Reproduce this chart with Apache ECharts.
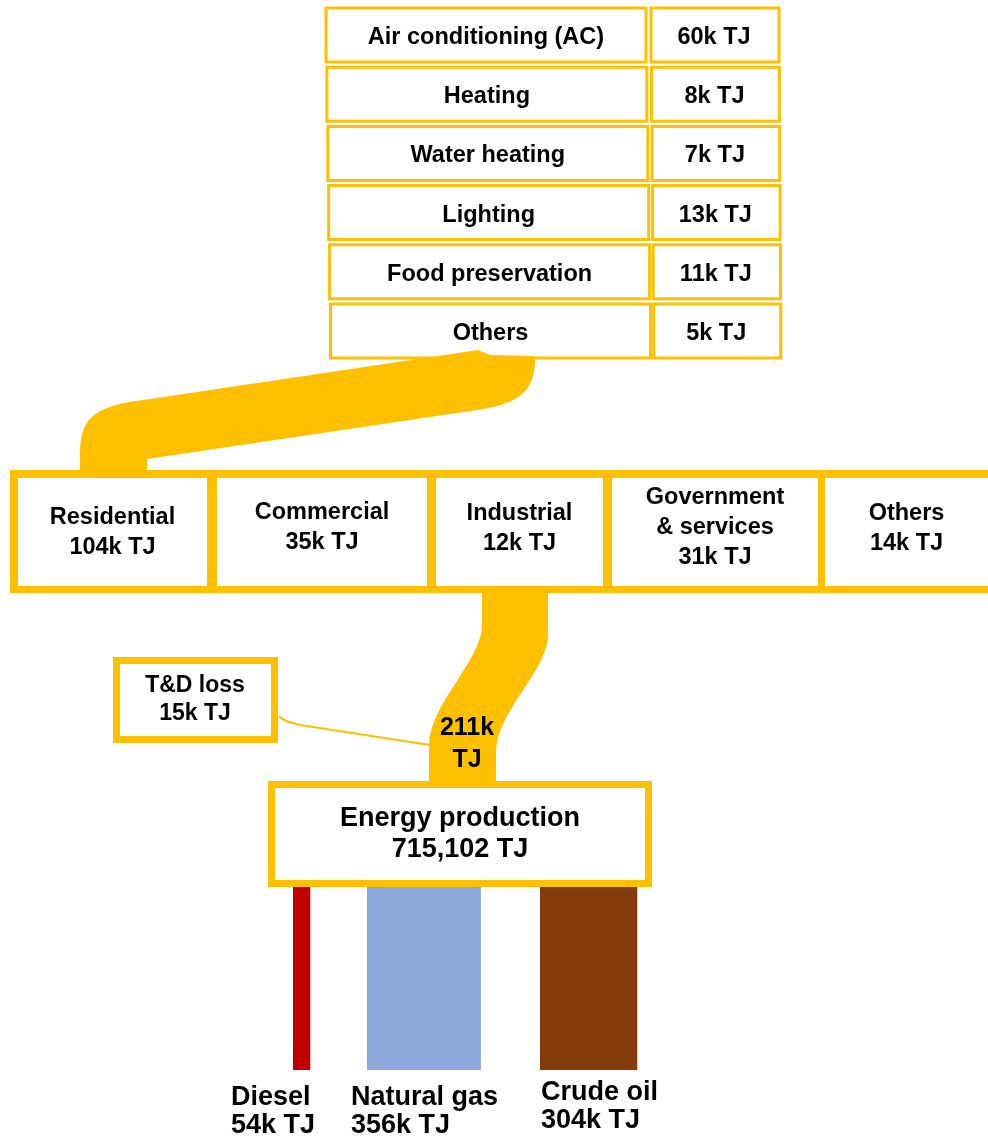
<!DOCTYPE html>
<html><head><meta charset="utf-8">
<script src="https://cdn.jsdelivr.net/npm/echarts@6/dist/echarts.min.js"></script>
<style>html,body{margin:0;padding:0;background:#fff}#c{width:988px;height:1136px}</style>
</head><body><div id="c"></div>
<script>
// ---------------- DATA ----------------
const endUses = ['Air conditioning (AC)', 'Heating', 'Water heating', 'Lighting', 'Food preservation', 'Others'];
const endUseValues = [60, 8, 7, 13, 11, 5];           // k TJ (residential end uses)
const sectors = ['Residential', 'Commercial', 'Industrial', 'Government\n& services', 'Others'];
const sectorValues = [104, 35, 12, 31, 14];           // k TJ
const sources = ['Diesel', 'Natural gas', 'Crude oil'];
const sourceValues = [54, 356, 304];                  // k TJ
const totalProduction = 715102;                       // TJ
const electricityFlow = 211;                          // k TJ
const tdLoss = 15;                                    // k TJ

// ---------------- STYLE / LAYOUT (axis units) ----------------
const YEL = '#FFC000';
const sourceColors = ['#C00000', '#8EA9DB', '#843C0C'];
const FONT = '"Liberation Sans", Arial, sans-serif';
const kTJ = v => v + 'k TJ';

const table = { top: 8, step: 59.2, h: 54, lx0: 326, lx1: 646, rx0: 651, rx1: 779, drift: 0.9 };
const sectorFrame = { x0: 10, y0: 470, x1: 988, y1: 593, iy0: 478, iy1: 586 };
const sectorInner = [[18, 207], [217, 427], [436, 603], [612, 818], [825, 988]];
const sectorTextY = [533, 528, 529, 528, 529];
const energyBox = { x0: 268, y0: 781, x1: 652, y1: 887 };
const lossBox = { x0: 113, y0: 657, x1: 278, y1: 743 };
const srcLayout = { left: [293, 367, 540], y0: 887, y1: 1070, pxPerK: 0.32,
  labelX: [231, 351, 541], labelY: [1112, 1112, 1107] };

function txt(api, x, y, text, size, opt) {
  const p = api.coord([x, y]);
  return { type: 'text', z2: 10, style: Object.assign({
    text, x: p[0], y: p[1], fill: '#000', font: 'bold ' + size + 'px ' + FONT,
    align: 'center', verticalAlign: 'middle', lineHeight: Math.round(size * 1.3)
  }, opt || {}) };
}
function rect(api, x0, y0, x1, y1, style) {
  const a = api.coord([x0, y0]), b = api.coord([x1, y1]);
  return { type: 'rect', shape: { x: a[0], y: a[1], width: b[0] - a[0], height: b[1] - a[1] }, style };
}
function cubic(p0, p1, p2, p3, n) {
  const out = [];
  for (let i = 1; i <= n; i++) {
    const t = i / n, u = 1 - t;
    out.push([u*u*u*p0[0] + 3*u*u*t*p1[0] + 3*u*t*t*p2[0] + t*t*t*p3[0],
              u*u*u*p0[1] + 3*u*u*t*p1[1] + 3*u*t*t*p2[1] + t*t*t*p3[1]]);
  }
  return out;
}

const chart = echarts.init(document.getElementById('c'));
chart.setOption({
  animation: false,
  backgroundColor: '#fff',
  grid: { left: 0, right: 0, top: 0, bottom: 0 },
  xAxis: { type: 'value', min: 0, max: 988, show: false },
  yAxis: { type: 'value', min: 0, max: 1136, inverse: true, show: false },
  series: [
    { // end-use table
      type: 'custom', z: 2,
      data: endUses.map((n, i) => [i, endUseValues[i]]),
      renderItem: (params, api) => {
        const i = api.value(0), v = api.value(1);
        const y0 = table.top + i * table.step, y1 = y0 + table.h, d = i * table.drift;
        const st = { fill: '#fff', stroke: YEL, lineWidth: 3 };
        return { type: 'group', children: [
          rect(api, table.lx0 + d, y0, table.lx1 + d, y1, st),
          rect(api, table.rx0 + d * 0.6, y0, table.rx1 + d * 0.4, y1, st),
          txt(api, (table.lx0 + table.lx1) / 2 + d, (y0 + y1) / 2 + 2.5, endUses[i], 23.5),
          txt(api, (table.rx0 + table.rx1) / 2 + d * 0.5 - 1, (y0 + y1) / 2 + 2.5, kTJ(v), 23.5)
        ] };
      }
    },
    { // flows
      type: 'custom', z: 3,
      data: [[electricityFlow, endUseValues.reduce((a, b) => a + b, 0)]],
      renderItem: (params, api) => {
        const res = [[535, 356], ...cubic([535, 356], [536, 390], [520, 404], [477, 410], 16),
          [147, 459], [147, 474], [80, 474], [80, 452],
          ...cubic([80, 452], [80, 414], [100, 405], [150, 399], 16), [478, 350], [490, 355]];
        const ind = [[482, 590], [482, 625], ...cubic([482, 625], [482, 660], [429, 705], [429, 745], 20),
          [429, 785], [496, 785], [496, 752], ...cubic([496, 752], [496, 712], [548, 670], [548, 635], 20), [548, 590]];
        const line = [[279, 716], ...cubic([279, 716], [285, 722], [290, 722], [300, 725], 6), [430, 745]];
        return { type: 'group', children: [
          { type: 'polygon', shape: { points: res.map(p => api.coord(p)) }, style: { fill: YEL } },
          { type: 'polygon', shape: { points: ind.map(p => api.coord(p)) }, style: { fill: YEL } },
          { type: 'polyline', shape: { points: line.map(p => api.coord(p)) }, style: { stroke: YEL, lineWidth: 2.2, fill: null } },
          txt(api, 467, 744, electricityFlow + 'k\nTJ', 25, { lineHeight: 32 })
        ] };
      }
    },
    { // sector frame
      type: 'custom', z: 4,
      data: [[0, sectorValues.reduce((a, b) => a + b, 0)]],
      renderItem: (params, api) => rect(api, sectorFrame.x0, sectorFrame.y0, sectorFrame.x1, sectorFrame.y1, { fill: YEL })
    },
    { // sectors
      type: 'custom', z: 5,
      data: sectors.map((n, i) => [i, sectorValues[i]]),
      renderItem: (params, api) => {
        const i = api.value(0), v = api.value(1);
        const [x0, x1] = sectorInner[i];
        return { type: 'group', children: [
          rect(api, x0, sectorFrame.iy0, x1, sectorFrame.iy1, { fill: '#fff' }),
          txt(api, (x0 + x1) / 2, sectorTextY[i], sectors[i] + '\n' + kTJ(v), 23.5, { lineHeight: 30 })
        ] };
      }
    },
    { // energy production + T&D loss
      type: 'custom', z: 4,
      data: [[totalProduction, tdLoss]],
      renderItem: (params, api) => {
        const tot = api.value(0), loss = api.value(1);
        const st = { fill: '#fff', stroke: YEL, lineWidth: 7 };
        return { type: 'group', children: [
          rect(api, energyBox.x0 + 3.5, energyBox.y0 + 3.5, energyBox.x1 - 3.5, energyBox.y1 - 3.5, st),
          txt(api, (energyBox.x0 + energyBox.x1) / 2, 834, 'Energy production\n' + tot.toLocaleString('en-US') + ' TJ', 27, { lineHeight: 31 }),
          rect(api, lossBox.x0 + 3.5, lossBox.y0 + 3.5, lossBox.x1 - 3.5, lossBox.y1 - 3.5, st),
          txt(api, 195, 700, 'T&D loss\n' + kTJ(loss), 23, { lineHeight: 28 })
        ] };
      }
    },
    { // energy sources (width proportional to value)
      type: 'custom', z: 3,
      data: sources.map((n, i) => [i, sourceValues[i]]),
      renderItem: (params, api) => {
        const i = api.value(0), v = api.value(1);
        const x0 = srcLayout.left[i];
        return { type: 'group', children: [
          rect(api, x0, srcLayout.y0, x0 + v * srcLayout.pxPerK, srcLayout.y1, { fill: sourceColors[i] }),
          txt(api, srcLayout.labelX[i], srcLayout.labelY[i], sources[i] + '\n' + kTJ(v), 27, { align: 'left', lineHeight: 28 })
        ] };
      }
    }
  ]
});
</script></body></html>
